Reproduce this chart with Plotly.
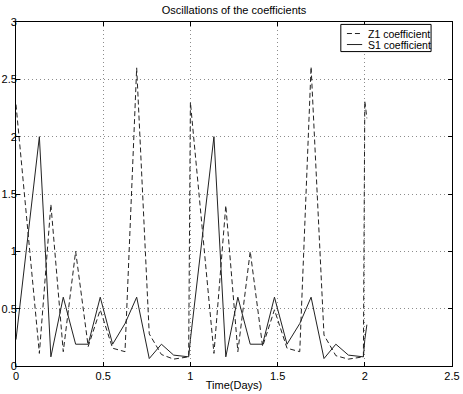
import plotly.graph_objects as go

# tiempos (días)
tiempo = [0.0, 0.134, 0.2, 0.271, 0.342, 0.414, 0.483, 0.554, 0.625, 0.692, 0.764, 0.834, 0.904, 0.99,
          1.0, 1.135, 1.203, 1.272, 1.343, 1.414, 1.482, 1.554, 1.627, 1.692, 1.766, 1.834, 1.906, 1.992,
          2.0, 2.012]

z1 = [2.28, 0.11, 1.41, 0.125, 1.0, 0.17, 0.49, 0.155, 0.125, 2.6, 0.28, 0.1, 0.06, 0.08,
      2.3, 0.11, 1.4, 0.125, 1.0, 0.17, 0.49, 0.155, 0.125, 2.61, 0.27, 0.09, 0.06, 0.08,
      2.31, 2.16]

s1 = [0.23, 2.0, 0.08, 0.6, 0.19, 0.19, 0.6, 0.19, 0.37, 0.6, 0.065, 0.19, 0.095, 0.08,
      0.23, 2.0, 0.08, 0.6, 0.19, 0.19, 0.6, 0.19, 0.37, 0.6, 0.065, 0.19, 0.095, 0.08,
      0.23, 0.36]

nombres = ["Z1 coefficient", "S1 coefficient"]
xticks = [0, 0.5, 1, 1.5, 2, 2.5]
yticks = [0, 0.5, 1, 1.5, 2, 2.5, 3]

color = "#222222"
guiones = "5px,3px"

fig = go.Figure()
fig.add_trace(go.Scatter(x=tiempo, y=z1, mode="lines", name=nombres[0],
                         line=dict(color=color, width=1, dash=guiones)))
fig.add_trace(go.Scatter(x=tiempo, y=s1, mode="lines", name=nombres[1],
                         line=dict(color=color, width=1)))

ejes = dict(showline=True, linecolor="black", linewidth=1, mirror="ticks",
            ticks="inside", ticklen=4, tickcolor="black",
            showgrid=True, gridcolor="#8c8c8c", griddash="1px,3px", gridwidth=1,
            zeroline=False, tickfont=dict(size=11, color="black"), automargin=False)

fig.update_xaxes(range=[0, 2.5], tickvals=xticks, **ejes,
                 title=dict(text="Time(Days)", font=dict(size=11, color="black"), standoff=0))
fig.update_yaxes(range=[0, 3], tickvals=yticks, ticklabelstandoff=-4, **ejes)

# leyenda compacta estilo matlab (caja + muestras de línea + textos)
fig.add_shape(type="rect", xref="paper", yref="paper", x0=0.745, x1=0.952, y0=0.914, y1=0.993,
              line=dict(color="black", width=1), fillcolor="white", layer="above")
fig.add_shape(type="line", xref="paper", yref="paper", x0=0.759, x1=0.794, y0=0.9665, y1=0.9665,
              line=dict(color=color, width=1, dash=guiones), layer="above")
fig.add_shape(type="line", xref="paper", yref="paper", x0=0.759, x1=0.794, y0=0.9345, y1=0.9345,
              line=dict(color=color, width=1), layer="above")
for nombre, yy in zip(nombres, [0.9665, 0.9345]):
    fig.add_annotation(text=nombre, xref="paper", yref="paper", x=0.803, y=yy,
                       xanchor="left", yanchor="middle", showarrow=False,
                       font=dict(size=10.5, color="black"))

fig.update_layout(
    width=463, height=394,
    margin=dict(l=16, r=11, t=22, b=28),
    paper_bgcolor="white", plot_bgcolor="white",
    font=dict(family="Liberation Sans, Arial, sans-serif", size=11, color="black"),
    title=dict(text="Oscillations of the coefficients", x=0.5, xref="paper", y=0.985,
               yanchor="top", font=dict(size=11)),
    showlegend=False,
)

fig.write_html("out.html", config={"displayModeBar": False},
               post_script="document.body.style.margin='0px';")
